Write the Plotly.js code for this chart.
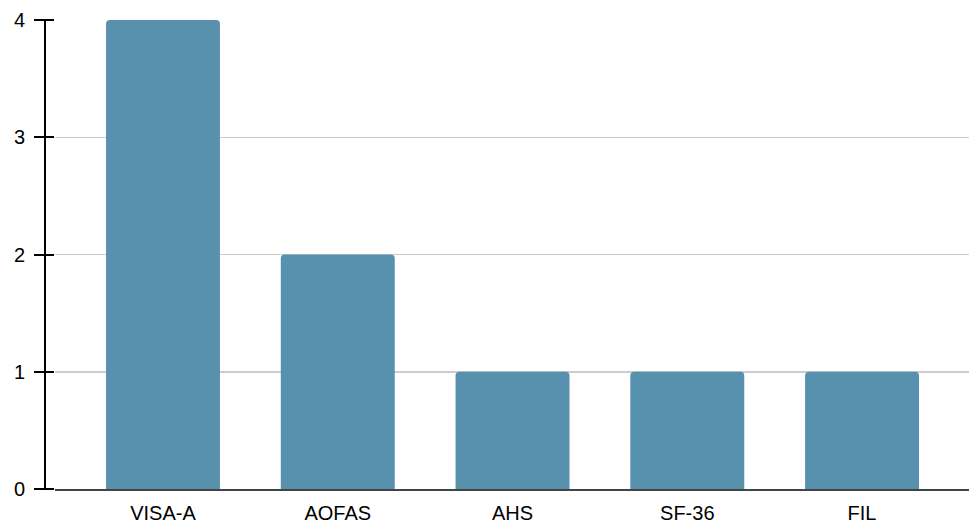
<!DOCTYPE html>
<html>
<head>
<meta charset="utf-8">
<script src="https://cdn.plot.ly/plotly-3.0.1.min.js"></script>
<style>html,body{margin:0;padding:0;background:#fff;}#chart{width:969px;height:524px;}</style>
</head>
<body>
<div id="chart"></div>
<script>
var categories = ["VISA-A", "AOFAS", "AHS", "SF-36", "FIL"];
var counts = [4, 2, 1, 1, 1];
var yTicks = [0, 1, 2, 3, 4];

var trace = {
  type: "bar",
  x: categories,
  y: counts,
  width: 0.652,
  marker: {color: "#5891ae", cornerradius: 4, line: {width: 0}},
  hoverinfo: "x+y"
};

var layout = {
  width: 969,
  height: 524,
  margin: {l: 55, r: 0, t: 20, b: 34.5, pad: 0},
  paper_bgcolor: "#ffffff",
  plot_bgcolor: "#ffffff",
  showlegend: false,
  font: {family: "Liberation Sans, Arial, sans-serif", size: 20, color: "#000"},
  xaxis: {
    type: "category",
    range: [-0.618, 4.612],
    showgrid: false,
    zeroline: false,
    showline: true,
    linecolor: "#444",
    linewidth: 2,
    ticks: "",
    ticklabelstandoff: 5,
    tickfont: {size: 20, color: "#000"},
    fixedrange: true
  },
  yaxis: {
    range: [0, 4],
    tickvals: yTicks,
    ticktext: yTicks.map(String),
    showgrid: true,
    gridcolor: "#cccccc",
    gridwidth: 1.5,
    zeroline: false,
    showline: false,
    ticks: "outside",
    ticklen: 20,
    tickwidth: 2,
    tickcolor: "#000",
    ticklabelstandoff: 5,
    tickfont: {size: 20, color: "#000"},
    fixedrange: true
  },
  shapes: [{
    type: "line", xref: "paper", yref: "paper",
    x0: -10/914, x1: -10/914, y0: 0, y1: 1,
    line: {color: "#000", width: 2}
  }]
};

Plotly.newPlot("chart", [trace], layout, {displayModeBar: false, staticPlot: true});
</script>
</body>
</html>
